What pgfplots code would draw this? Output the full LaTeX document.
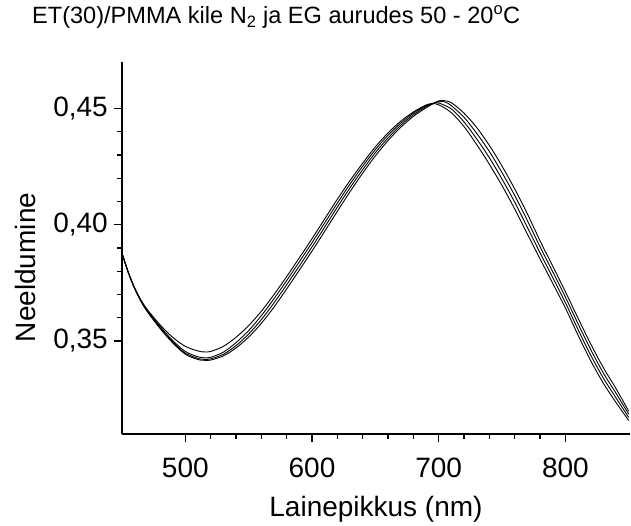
\documentclass[border=0pt]{standalone}
\usepackage{graphicx}
\usepackage{pgfplots}
\pgfplotsset{compat=1.18}
\usepackage{fontspec}
\setmainfont{Liberation Sans}
\begin{document}
\begin{tikzpicture}
\begin{axis}[
  scale only axis,
  width=508pt, height=372pt,
  xmin=450, xmax=851, ymin=0.31, ymax=0.47,
  axis lines=left,
  axis line style={-, line width=1.3pt},
  tick align=outside,
  tick style={line width=1.2pt, black},
  major tick length=8pt, minor tick length=4.5pt,
  xtick={500,600,700,800}, minor x tick num=4,
  ytick={0.35,0.40,0.45}, minor y tick num=4,
  /pgf/number format/assume math mode=true,
  yticklabel style={/pgf/number format/fixed, /pgf/number format/fixed zerofill, /pgf/number format/precision=2, /pgf/number format/use comma},
  tick label style={font=\fontsize{28}{33}\selectfont},
  xticklabel style={anchor=base, inner sep=0pt, yshift=-35pt},
  yticklabel style={anchor=east, inner sep=0pt, xshift=-6pt},
  label style={font=\fontsize{28}{33}\selectfont},
  xlabel={Lainepikkus (nm)},
  xlabel style={at={(0.5,0)}, anchor=base, inner sep=0pt, yshift=-82pt},
  ylabel={Neeldumine},
  ylabel style={at={(-0.1909,0.4476)}, anchor=center, inner sep=0pt},
  title={\resizebox{488pt}{!}{\fontsize{23.6}{28}\selectfont ET(30)/PMMA kile N\textsubscript{2} ja EG aurudes 50 - 20\textsuperscript{o}C}},
  title style={at={(0,1)}, anchor=base west, inner sep=0pt, xshift=-90pt, yshift=32pt},
  clip=false,
]
\addplot[black, line width=0.9pt, smooth] coordinates {
(450,0.3877)(455,0.3795)(460,0.3728)(465,0.3676)(470,0.3635)(480,0.3570)(490,0.3516)(500,0.3477)(510,0.3457)(515,0.3453)(520,0.3455)(530,0.3477)(540,0.3516)(550,0.3566)(560,0.3628)(570,0.3700)(580,0.3777)(590,0.3858)(600,0.3940)(610,0.4025)(620,0.4110)(630,0.4190)(640,0.4265)(650,0.4335)(660,0.4395)(670,0.4445)(680,0.4485)(690,0.4515)(695,0.4521)(700,0.4516)(710,0.4482)(720,0.4422)(730,0.4345)(740,0.4260)(750,0.4168)(760,0.4068)(770,0.3960)(780,0.3853)(790,0.3748)(800,0.3642)(810,0.3525)(820,0.3415)(830,0.3318)(840,0.3235)(850,0.3158)
};
\addplot[black, line width=0.9pt, smooth] coordinates {
(450,0.3877)(455,0.3795)(460,0.3727)(465,0.3674)(470,0.3632)(480,0.3563)(490,0.3502)(500,0.3455)(510,0.3432)(515,0.3428)(520,0.3430)(530,0.3452)(540,0.3493)(550,0.3545)(560,0.3609)(570,0.3682)(580,0.3760)(590,0.3841)(600,0.3923)(610,0.4008)(620,0.4093)(630,0.4175)(640,0.4252)(650,0.4323)(660,0.4385)(670,0.4437)(680,0.4480)(690,0.4512)(697,0.4525)(700,0.4524)(710,0.4498)(720,0.4442)(730,0.4369)(740,0.4288)(750,0.4196)(760,0.4097)(770,0.3989)(780,0.3879)(790,0.3773)(800,0.3665)(810,0.3549)(820,0.3439)(830,0.3340)(840,0.3255)(850,0.3171)
};
\addplot[black, line width=0.9pt, smooth] coordinates {
(450,0.3877)(455,0.3794)(460,0.3726)(465,0.3672)(470,0.3629)(480,0.3558)(490,0.3496)(500,0.3448)(510,0.3425)(515,0.3421)(520,0.3423)(530,0.3443)(540,0.3480)(550,0.3530)(560,0.3592)(570,0.3664)(580,0.3742)(590,0.3823)(600,0.3905)(610,0.3990)(620,0.4076)(630,0.4159)(640,0.4237)(650,0.4310)(660,0.4373)(670,0.4428)(680,0.4473)(690,0.4508)(700,0.4529)(705,0.4528)(710,0.4512)(720,0.4462)(730,0.4393)(740,0.4315)(750,0.4224)(760,0.4126)(770,0.4018)(780,0.3905)(790,0.3798)(800,0.3689)(810,0.3574)(820,0.3463)(830,0.3362)(840,0.3275)(850,0.3185)
};
\addplot[black, line width=0.9pt, smooth] coordinates {
(450,0.3877)(455,0.3794)(460,0.3725)(465,0.3670)(470,0.3626)(480,0.3554)(490,0.3492)(500,0.3443)(510,0.3420)(515,0.3417)(520,0.3418)(530,0.3436)(540,0.3470)(550,0.3517)(560,0.3576)(570,0.3646)(580,0.3724)(590,0.3805)(600,0.3887)(610,0.3972)(620,0.4058)(630,0.4142)(640,0.4222)(650,0.4296)(660,0.4362)(670,0.4419)(680,0.4466)(690,0.4503)(700,0.4533)(705,0.4533)(710,0.4525)(720,0.4480)(730,0.4418)(740,0.4341)(750,0.4252)(760,0.4154)(770,0.4047)(780,0.3931)(790,0.3822)(800,0.3712)(810,0.3598)(820,0.3487)(830,0.3385)(840,0.3295)(850,0.3198)
};
\end{axis}
\pgfresetboundingbox
\path[use as bounding box] (current axis.south west) ++(-122pt,-91pt) rectangle ++(631pt,525pt);
\end{tikzpicture}
\end{document}
